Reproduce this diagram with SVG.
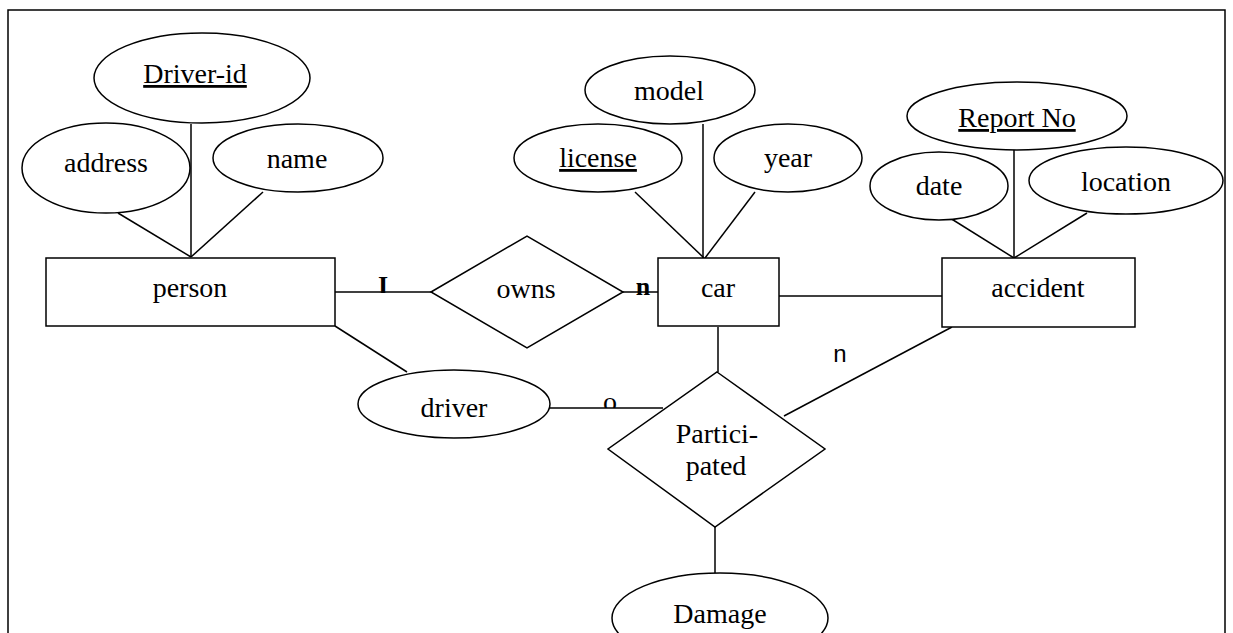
<svg xmlns="http://www.w3.org/2000/svg" width="1233" height="633" viewBox="0 0 1233 633">
<style>
.s{fill:#fff;stroke:#000;stroke-width:1.5}
.l{stroke:#000;stroke-width:1.5;fill:none}
.t{font-family:"Liberation Serif","Times New Roman",serif;font-size:28px;fill:#000;text-anchor:middle}
.u{text-decoration:underline}
.lb{font-family:"Liberation Serif","Times New Roman",serif;font-size:26px;font-weight:bold;fill:#000;text-anchor:middle}
.ls{font-family:"Liberation Sans",Arial,sans-serif;font-size:24px;fill:#000;text-anchor:middle}
</style>
<defs>
<clipPath id="cI"><rect x="370" y="260" width="30" height="33"/></clipPath>
<clipPath id="cO"><rect x="595" y="385" width="30" height="23"/></clipPath>
</defs>
<rect x="0" y="0" width="1233" height="633" fill="#fff"/>
<path class="l" d="M8,640 V10 H1225 V640" stroke-width="2"/>
<g id="connectors">
<line class="l" x1="118" y1="213" x2="191" y2="257"/>
<line class="l" x1="191" y1="124" x2="191" y2="257"/>
<line class="l" x1="263" y1="192" x2="191" y2="257"/>
<line class="l" x1="335" y1="292" x2="431" y2="292"/>
<line class="l" x1="623" y1="292" x2="658" y2="292"/>
<line class="l" x1="635" y1="192" x2="704" y2="258"/>
<line class="l" x1="703" y1="124" x2="703" y2="258"/>
<line class="l" x1="755" y1="192" x2="705" y2="258"/>
<line class="l" x1="779" y1="296" x2="943" y2="296"/>
<line class="l" x1="942" y1="213" x2="1014" y2="258"/>
<line class="l" x1="1014" y1="146" x2="1014" y2="258"/>
<line class="l" x1="1087" y1="213" x2="1014" y2="258"/>
<line class="l" x1="718" y1="327" x2="718" y2="372"/>
<line class="l" x1="952" y1="327" x2="784" y2="416"/>
<line class="l" x1="335" y1="326" x2="407" y2="372"/>
<line class="l" x1="550" y1="408" x2="663" y2="408"/>
<line class="l" x1="715" y1="527" x2="715" y2="573"/>
<text class="lb" x="383" y="294" clip-path="url(#cI)">I</text>
<text class="lb" x="643" y="295">n</text>
<text class="ls" x="840" y="362">n</text>
<text class="t" x="610" y="411" clip-path="url(#cO)">o</text>
</g>
<g id="driver-id"><ellipse class="s" cx="202" cy="78" rx="108" ry="45"/><text class="t u" x="195" y="83">Driver-id</text></g>
<g id="address"><ellipse class="s" cx="106" cy="168" rx="84" ry="45"/><text class="t" x="106" y="172">address</text></g>
<g id="name"><ellipse class="s" cx="298" cy="158" rx="85" ry="34"/><text class="t" x="297" y="168">name</text></g>
<g id="person"><rect class="s" x="46" y="258" width="289" height="68"/><text class="t" x="190" y="297">person</text></g>
<g id="owns"><polygon class="s" points="431,292 527,236 623,292 527,348"/><text class="t" x="526" y="298">owns</text></g>
<g id="car"><rect class="s" x="658" y="258" width="121" height="68"/><text class="t" x="718" y="297">car</text></g>
<g id="model"><ellipse class="s" cx="670" cy="90" rx="85" ry="34"/><text class="t" x="669" y="100">model</text></g>
<g id="license"><ellipse class="s" cx="598" cy="158" rx="84" ry="34"/><text class="t u" x="598" y="167">license</text></g>
<g id="year"><ellipse class="s" cx="788" cy="158" rx="74" ry="34"/><text class="t" x="788" y="167">year</text></g>
<g id="accident"><rect class="s" x="942" y="258" width="193" height="69"/><text class="t" x="1038" y="297">accident</text></g>
<g id="report-no"><ellipse class="s" cx="1017" cy="116" rx="110" ry="34"/><text class="t u" x="1017" y="127">Report No</text></g>
<g id="date"><ellipse class="s" cx="939" cy="186" rx="69" ry="34"/><text class="t" x="939" y="195">date</text></g>
<g id="location"><ellipse class="s" cx="1126" cy="180.5" rx="97" ry="33.5"/><text class="t" x="1126" y="191">location</text></g>
<g id="driver"><ellipse class="s" cx="454" cy="404" rx="96" ry="34"/><text class="t" x="454" y="417">driver</text></g>
<g id="participated"><polygon class="s" points="717,372 825,449 715,527 608,449"/><text class="t" x="717" y="443">Partici-</text><text class="t" x="716" y="475">pated</text></g>
<g id="damage"><ellipse class="s" cx="720" cy="618" rx="108" ry="45"/><text class="t" x="720" y="623">Damage</text></g>
</svg>
